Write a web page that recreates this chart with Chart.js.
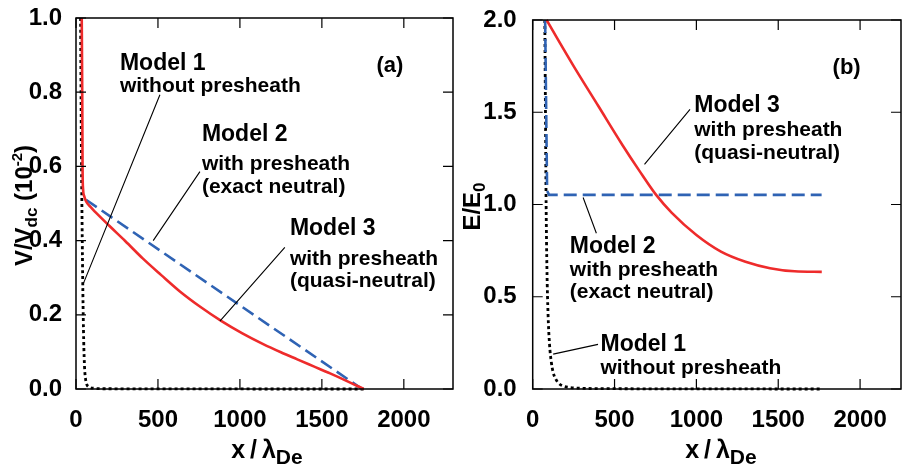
<!DOCTYPE html>
<html>
<head>
<meta charset="utf-8">
<script src="https://cdn.jsdelivr.net/npm/chart.js@4.4.1/dist/chart.umd.min.js"></script>
<style>
  body { margin: 0; background: #fff; overflow: hidden; }
  #wrap { position: relative; width: 902px; height: 473px; }
  #panelA { position: absolute; left: 0; top: 0; }
  #panelB { position: absolute; left: 460px; top: 0; }
</style>
</head>
<body>
<div id="wrap">
  <canvas id="panelA" width="460" height="473"></canvas>
  <canvas id="panelB" width="442" height="473"></canvas>
</div>
<script>
var FONT = '"Liberation Sans", Arial, Helvetica, sans-serif';

// tick values
var xTicks = [0, 500, 1000, 1500, 2000];
var yTicksA = [0, 0.2, 0.4, 0.6, 0.8, 1.0];
var yTicksB = [0, 0.5, 1.0, 1.5, 2.0];

// panel (a) : V/Vdc against x/lambdaDe
var a1X = [28, 32, 37, 42, 47, 52, 58, 66, 80, 110, 160, 1760];          // model 1
var a1Y = [1.0, 0.7, 0.45, 0.26, 0.13, 0.06, 0.028, 0.012, 0.005, 0.002, 0.0007, 0];
var a2X = [61, 1745];                                                     // model 2
var a2Y = [0.51, 0];
var a3X = [35, 38, 40, 43, 50, 61, 90, 120, 203, 300, 407, 520, 634, 760, 888,
           1015, 1142, 1250, 1350, 1450, 1550, 1650, 1755];               // model 3
var a3Y = [1.0, 0.8, 0.6, 0.54, 0.52, 0.506, 0.49, 0.476, 0.44, 0.399, 0.352, 0.307, 0.263, 0.221, 0.183,
           0.150, 0.121, 0.099, 0.080, 0.061, 0.042, 0.022, 0];

// panel (b) : E/E0 against x/lambdaDe
var b1X = [74, 78, 82, 87, 94, 103, 113, 125, 140, 160, 190, 230, 300, 400, 1765];
var b1Y = [2.0, 1.5, 1.0, 0.65, 0.4, 0.24, 0.15, 0.09, 0.055, 0.03, 0.015, 0.008, 0.004, 0.002, 0];
var b2X = [76, 88, 100, 1765];
var b2Y = [2.0, 1.075, 1.052, 1.052];
var b3X = [85, 150, 250, 400, 550, 650, 754, 850, 1000, 1150, 1300, 1450, 1600, 1766];
var b3Y = [2.0, 1.9, 1.75, 1.535, 1.32, 1.185, 1.052, 0.955, 0.835, 0.745, 0.69, 0.655, 0.638, 0.635];

function pts(xs, ys) {
  return xs.map(function(x, i) { return {x: x, y: ys[i]}; });
}

function series(x1, y1, x2, y2, x3, y3) {
  // first dataset is drawn on top
  return [
    {data: pts(x3, y3), borderColor: '#ee2b2b', borderWidth: 2.6, cubicInterpolationMode: 'monotone'},
    {data: pts(x2, y2), borderColor: '#2f63b4', borderWidth: 2.6, borderDash: [13, 6]},
    {data: pts(x1, y1), borderColor: '#000000', borderWidth: 2.8, borderDash: [3, 3], cubicInterpolationMode: 'monotone'}
  ];
}

function drawRich(ctx, segs, x, y) {
  var total = 0;
  segs.forEach(function(s) {
    ctx.font = 'bold ' + s[1] + 'px ' + FONT;
    s.w = ctx.measureText(s[0]).width;
    total += s.w;
  });
  var cx = x - total / 2;
  segs.forEach(function(s) {
    ctx.font = 'bold ' + s[1] + 'px ' + FONT;
    ctx.fillText(s[0], cx, y + s[2]);
    cx += s.w;
  });
}

function decor(cfg) {
  return {
    id: 'decor',
    afterDraw: function(chart) {
      var ctx = chart.ctx, a = chart.chartArea;
      var xs = chart.scales.x, ys = chart.scales.y;
      ctx.save();
      ctx.strokeStyle = '#000';
      ctx.lineWidth = 1.5;
      ctx.strokeRect(a.left, a.top, a.right - a.left, a.bottom - a.top);

      // inward ticks, all four sides
      ctx.lineWidth = 1.2;
      ctx.beginPath();
      xs.ticks.forEach(function(t) {
        var px = xs.getPixelForValue(t.value);
        ctx.moveTo(px, a.bottom); ctx.lineTo(px, a.bottom - 10);
        ctx.moveTo(px, a.top); ctx.lineTo(px, a.top + 10);
      });
      ys.ticks.forEach(function(t) {
        var py = ys.getPixelForValue(t.value);
        ctx.moveTo(a.left, py); ctx.lineTo(a.left + 10, py);
        ctx.moveTo(a.right, py); ctx.lineTo(a.right - 10, py);
      });
      ctx.stroke();

      // leader lines
      ctx.lineWidth = 1.1;
      ctx.beginPath();
      cfg.leaders.forEach(function(l) {
        ctx.moveTo(xs.getPixelForValue(l[0]), ys.getPixelForValue(l[1]));
        ctx.lineTo(xs.getPixelForValue(l[2]), ys.getPixelForValue(l[3]));
      });
      ctx.stroke();

      // model labels
      ctx.fillStyle = '#000';
      ctx.textBaseline = 'alphabetic';
      ctx.textAlign = 'left';
      cfg.notes.forEach(function(n) {
        var px = xs.getPixelForValue(n.x), py = ys.getPixelForValue(n.y);
        n.lines.forEach(function(s, i) {
          ctx.font = 'bold ' + (i === 0 ? 23 : 21) + 'px ' + FONT;
          ctx.fillText(s, px, py + n.dy[i]);
        });
      });

      // panel tag
      ctx.font = 'bold 22px ' + FONT;
      ctx.textAlign = 'center';
      ctx.fillText(cfg.tag[0], xs.getPixelForValue(cfg.tag[1]), ys.getPixelForValue(cfg.tag[2]));

      // x title
      ctx.textAlign = 'left';
      ctx.wordSpacing = '-2px';
      drawRich(ctx, [['x / \u03bb', 25, 0], ['De', 21, 6]], xs.getPixelForValue(cfg.xTitleAt), a.bottom + 69);
      ctx.wordSpacing = '0px';

      // y title
      ctx.translate(a.left - cfg.yTitleOff, (a.top + a.bottom) / 2 + 2);
      ctx.rotate(-Math.PI / 2);
      drawRich(ctx, cfg.yTitle, 0, 0);
      ctx.restore();
    }
  };
}

function makeChart(id, datasets, xMax, yMax, yTicks, pad, yWidth, yPad, cfg) {
  return new Chart(document.getElementById(id), {
    type: 'line',
    data: {datasets: datasets},
    options: {
      responsive: false,
      animation: false,
      events: [],
      layout: {padding: pad},
      elements: {point: {radius: 0}, line: {tension: 0, borderCapStyle: 'butt'}},
      datasets: {line: {clip: false}},
      plugins: {legend: {display: false}, tooltip: {enabled: false}},
      scales: {
        x: {
          type: 'linear', min: 0, max: xMax,
          afterBuildTicks: function(s) { s.ticks = xTicks.map(function(v) { return {value: v}; }); },
          afterFit: function(s) { s.height = 84; },
          grid: {display: false}, border: {display: false},
          ticks: {color: '#000', padding: 11, maxRotation: 0,
                  callback: function(v) { return String(v); },
                  font: {family: FONT, size: 24, weight: 'bold', lineHeight: 1}}
        },
        y: {
          type: 'linear', min: 0, max: yMax,
          afterBuildTicks: function(s) { s.ticks = yTicks.map(function(v) { return {value: v}; }); },
          afterFit: function(s) { s.width = yWidth; },
          grid: {display: false}, border: {display: false},
          ticks: {color: '#000', padding: yPad,
                  callback: function(v) { return Number(v).toFixed(1); },
                  font: {family: FONT, size: 24, weight: 'bold', lineHeight: 1}}
        }
      }
    },
    plugins: [decor(cfg)]
  });
}

makeChart('panelA', series(a1X, a1Y, a2X, a2Y, a3X, a3Y), 2300, 1.0, yTicksA,
  {left: 0, right: 7, top: 12, bottom: 0}, 76, 6, {
    notes: [
      {x: 268, y: 0.859, lines: ['Model 1', 'without presheath'], dy: [0, 22]},
      {x: 768, y: 0.668, lines: ['Model 2', 'with presheath', '(exact neutral)'], dy: [0, 29, 52]},
      {x: 1305, y: 0.414, lines: ['Model 3', 'with presheath', '(quasi-neutral)'], dy: [0, 30, 52]}
    ],
    leaders: [[512, 0.793, 41, 0.280], [756, 0.586, 471, 0.400], [1274, 0.382, 878, 0.183]],
    tag: ['(a)', 1915, 0.855],
    xTitleAt: 1165,
    yTitleOff: 44,
    yTitle: [['V/V', 24, 0], ['dc', 17, 5], [' (10', 24, 0], ['-2', 15, -10], [')', 24, 0]]
  });

makeChart('panelB', series(b1X, b1Y, b2X, b2Y, b3X, b3Y), 2250, 2.0, yTicksB,
  {left: 0, right: 1, top: 12, bottom: 0}, 72.7, 8, {
    notes: [
      {x: 987, y: 1.501, lines: ['Model 3', 'with presheath', '(quasi-neutral)'], dy: [0, 24, 47]},
      {x: 227, y: 0.737, lines: ['Model 2', 'with presheath', '(exact neutral)'], dy: [0, 23, 45]},
      {x: 414, y: 0.207, lines: ['Model 1', 'without presheath'], dy: [0, 23]}
    ],
    leaders: [[961, 1.516, 683, 1.218], [308, 1.038, 389, 0.844], [399, 0.242, 125, 0.189]],
    tag: ['(b)', 1918, 1.71],
    xTitleAt: 1150,
    yTitleOff: 53,
    yTitle: [['E/E', 24, 0], ['0', 17, 5]]
  });
</script>
</body>
</html>
